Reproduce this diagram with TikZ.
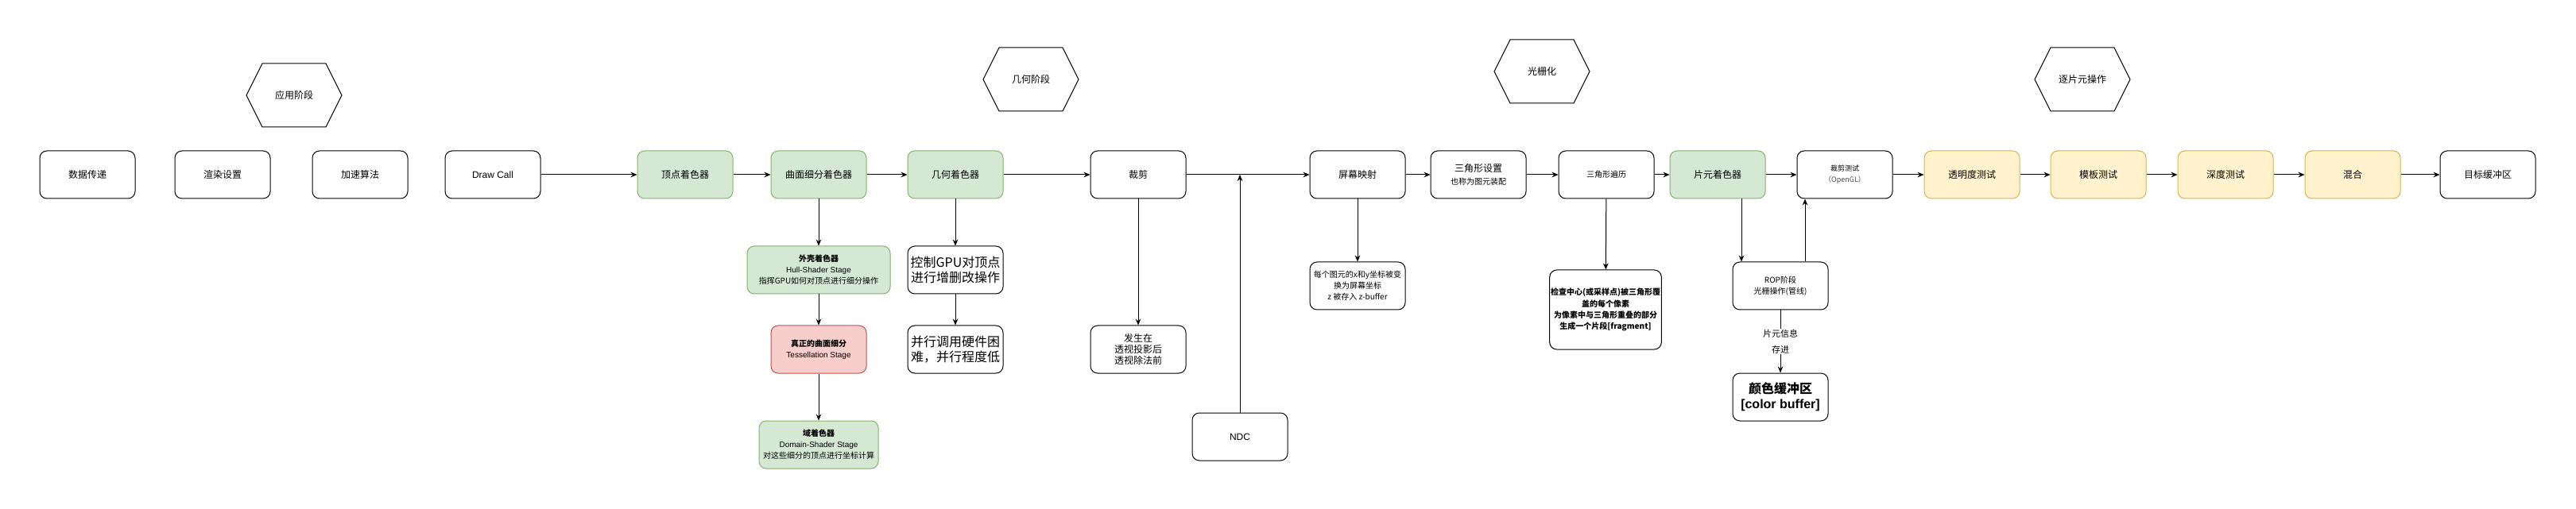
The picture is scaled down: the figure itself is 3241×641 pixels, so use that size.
\documentclass[tikz,border=0pt]{standalone}
\usepackage{fontspec}
\setmainfont{Noto Sans CJK SC}
\newfontfamily\lat{Liberation Sans}
\usetikzlibrary{arrows.meta}
\definecolor{gfill}{HTML}{D5E8D4}\definecolor{gline}{HTML}{82B366}
\definecolor{rfill}{HTML}{F8CECC}\definecolor{rline}{HTML}{B85450}
\definecolor{yfill}{HTML}{FFF2CC}\definecolor{yline}{HTML}{D6B656}
\newcommand\fs[2]{\fontsize{#1}{#2}\selectfont}
\newcommand\hexnode[4]{%
  \node[font=\fs{9}{10.5}] (#1) at (#2,#3) {#4};
  \draw[line width=0.75pt] ({#2-60},#3) -- ({#2-40},{#3-40}) -- ({#2+40},{#3-40}) -- ({#2+60},#3) -- ({#2+40},{#3+40}) -- ({#2-40},{#3+40}) -- cycle;}
\begin{document}
\begin{tikzpicture}[x=0.75pt,y=-0.75pt,
  box/.style={draw, line width=0.75pt, rounded corners=6.75pt, minimum width=90pt, minimum height=45pt, align=center, inner sep=1pt, font=\fs{9}{10.5}},
  greenbox/.style={box, fill=gfill, draw=gline},
  redbox/.style={box, fill=rfill, draw=rline},
  yellowbox/.style={box, fill=yfill, draw=yline},
  arr/.style={line width=0.75pt, -{Stealth[length=6pt,width=5pt]}}]
\fill[white] (0,0) rectangle (3241,641);
\useasboundingbox (0,0) rectangle (3241,641);

% stage hexagons
\hexnode{hApp}{370}{120}{应用阶段}
\hexnode{hGeo}{1297}{100}{几何阶段}
\hexnode{hRas}{1940}{90}{光栅化}
\hexnode{hFrag}{2620}{100}{逐片元操作}

% main row
\node[box] (data) at (110,220) {数据传递};
\node[box] (render) at (280,220) {渲染设置};
\node[box] (accel) at (453,220) {加速算法};
\node[box] (draw) at (620,220) {\lat Draw Call};
\node[greenbox] (vs) at (862,220) {顶点着色器};
\node[greenbox] (tess) at (1030,220) {曲面细分着色器};
\node[greenbox] (geom) at (1202,220) {几何着色器};
\node[box] (clip) at (1432,220) {裁剪};
\node[box] (screen) at (1708,220) {屏幕映射};
\node[box] (tset) at (1860,220) {三角形设置\\[1pt]{\fs{7.5}{9}也称为图元装配}};
\node[box, font=\fs{7.5}{9}] (ttrav) at (2021,220) {三角形遍历};
\node[greenbox] (frag) at (2161,220) {片元着色器};
\node[box, font=\fs{6.75}{10.5}] (sciss) at (2321,220) {裁剪测试\\{\color{black!70}（OpenGL）}};
\node[yellowbox] (alpha) at (2481,220) {透明度测试};
\node[yellowbox] (stencil) at (2640,220) {模板测试};
\node[yellowbox] (depth) at (2800,220) {深度测试};
\node[yellowbox] (blend) at (2960,220) {混合};
\node[box] (target) at (3130,220) {目标缓冲区};

% lower nodes
\node[greenbox, minimum width=135pt, font=\fs{7.5}{10.5}] (hull) at (1030,340) {{\bfseries 外壳着色器}\\{\lat Hull-Shader Stage}\\指挥GPU如何对顶点进行细分操作};
\node[redbox, font=\fs{7.5}{10.5}] (tessel) at (1030,440) {{\bfseries 真正的曲面细分}\\{\lat Tessellation Stage}};
\node[greenbox, minimum width=112.5pt, font=\fs{7.5}{10.5}] (domain) at (1030,560) {{\bfseries 域着色器}\\{\lat Domain-Shader Stage}\\对这些细分的顶点进行坐标计算};
\node[box, font=\fs{12}{14.25}] (ctrl) at (1202,340) {控制GPU对顶点\\进行增删改操作};
\node[box, font=\fs{12}{14.25}] (par) at (1202,440) {并行调用硬件困\\难，并行程度低};
\node[box] (happen) at (1432,440) {发生在\\透视投影后\\透视除法前};
\node[box] (ndc) at (1560,550) {\lat NDC};
\node[box, font=\fs{7.5}{10.5}] (coord) at (1708,360) {每个图元的x和y坐标被变\\换为屏幕坐标\\z 被存入 z-buffer};
\node[box, minimum width=105pt, minimum height=75pt, font=\fs{7.5}{10.7}\bfseries] (check) at (2020,390) {检查中心(或采样点)被三角形覆\\盖的每个像素\\为像素中与三角形重叠的部分\\生成一个片段[fragment]};
\node[box, font=\fs{7.5}{10.5}] (rop) at (2240,360) {ROP阶段\\光栅操作(管线)};
\node[box, font=\fs{12}{14.25}\bfseries] (cbuf) at (2240,500) {颜色缓冲区\\{\lat [color buffer]}};

% main flow
\draw[arr] (draw) -- (vs);
\draw[arr] (vs) -- (tess);
\draw[arr] (tess) -- (geom);
\draw[arr] (geom) -- (clip);
\draw[arr] (clip) -- (screen);
\draw[arr] (screen) -- (tset);
\draw[arr] (tset) -- (ttrav);
\draw[arr] (ttrav) -- (frag);
\draw[arr] (frag) -- (sciss);
\draw[arr] (sciss) -- (alpha);
\draw[arr] (alpha) -- (stencil);
\draw[arr] (stencil) -- (depth);
\draw[arr] (depth) -- (blend);
\draw[arr] (blend) -- (target);

% vertical branches
\draw[arr] (tess) -- (hull);
\draw[arr] (hull) -- (tessel);
\draw[arr] (tessel) -- (domain);
\draw[arr] (geom) -- (ctrl);
\draw[arr] (ctrl) -- (par);
\draw[arr] (clip) -- (happen);
\draw[arr] (ndc.north) -- (ndc.north |- clip.east);
\draw[arr] (screen) -- (coord);
\draw[arr] (ttrav) -- (check);
\draw[arr] ([xshift=22.5pt]frag.south) -- ([xshift=22.5pt]frag.south |- rop.north);
\draw[arr] ([xshift=23.25pt]rop.north) -- ([xshift=23.25pt]rop.north |- sciss.south);
\draw[arr] (rop) -- node[fill=white, inner sep=1pt, align=center, font=\fs{8.25}{15}] {片元信息\\存进} (cbuf);
\end{tikzpicture}
\end{document}
